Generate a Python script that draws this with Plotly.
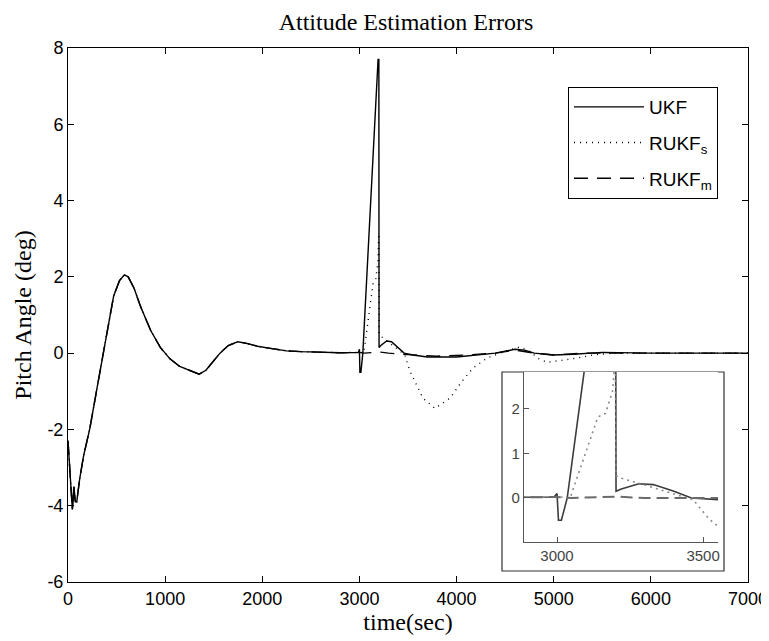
import plotly.graph_objects as go

# ---------------- data ----------------
# shared transient (all three filters coincide before ~3000 s)
t_common = [0, 15, 30, 45, 60, 75, 90, 120, 160, 225, 300, 400, 470, 530, 580, 620, 680,
            750, 850, 950, 1050, 1150, 1250, 1350, 1420, 1500, 1565, 1650, 1750, 1850,
            1950, 2100, 2250, 2400, 2600, 2800, 2990]
v_common = [-2.3, -3.0, -3.7, -4.1, -3.5, -3.9, -3.9, -3.3, -2.7, -1.97, -0.9, 0.55, 1.5, 1.9,
            2.05, 2.0, 1.7, 1.2, 0.6, 0.15, -0.15, -0.35, -0.45, -0.55, -0.45, -0.2, 0.0, 0.2,
            0.3, 0.25, 0.18, 0.12, 0.06, 0.04, 0.02, 0.01, 0.02]

t_ukf_late = [3000, 3005, 3015, 3035, 3100, 3192, 3200, 3202, 3220, 3280, 3330, 3400, 3460,
              3550, 3700, 4000, 4200, 4400, 4600, 4700, 4800, 5000, 5200, 5500, 6000, 7000]
v_ukf_late = [0.1, -0.5, -0.5, 0.0, 3.2, 7.7, 7.7, 0.15, 0.2, 0.32, 0.3, 0.15, 0.0,
              -0.05, -0.1, -0.1, -0.05, 0.0, 0.1, 0.08, 0.0, -0.05, -0.03, 0.02, 0.0, 0.0]

t_rukfs_late = [3000, 3045, 3089, 3140, 3166, 3190, 3198, 3200, 3202, 3216, 3274, 3387, 3466,
                3520, 3654, 3778, 3932, 4055, 4170, 4313, 4500, 4650, 4750, 4850, 4931, 5050,
                5240, 5400, 5600, 7000]
v_rukfs_late = [0.03, 0.0, 0.85, 1.82, 1.9, 2.4, 3.05, 3.05, 0.5, 0.45, 0.34, 0.11, -0.04,
                -0.47, -1.18, -1.45, -1.18, -0.74, -0.39, -0.13, 0.05, 0.16, 0.05, -0.15, -0.24,
                -0.2, -0.13, -0.05, 0.0, 0.0]

t_rukfm_late = [3000, 3050, 3200, 3300, 3500, 3800, 4100, 4400, 4600, 4800, 5000, 5300, 7000]
v_rukfm_late = [0.02, 0.0, 0.03, 0.0, -0.04, -0.08, -0.05, 0.0, 0.08, 0.0, -0.05, 0.0, 0.0]

series_names = ["UKF", "RUKF<sub>s</sub>", "RUKF<sub>m</sub>"]
x_tick_vals = [0, 1000, 2000, 3000, 4000, 5000, 6000, 7000]
x_tick_labels = ["0", "1000", "2000", "3000", "4000", "5000", "6000", "7000"]
y_tick_vals = [-6, -4, -2, 0, 2, 4, 6, 8]
y_tick_labels = ["-6", "-4", "-2", "0", "2", "4", "6", "8"]
inset_x_tick_vals = [3000, 3500]
inset_x_tick_labels = ["3000", "3500"]
inset_y_tick_vals = [0, 1, 2]
inset_y_tick_labels = ["0", "1", "2"]
inset_x_range = [2887, 3551]
inset_y_range = [-0.99, 2.83]

# ---------------- figure ----------------
series = [
    (t_common + t_ukf_late, v_common + v_ukf_late),
    (t_common + t_rukfs_late, v_common + v_rukfs_late),
    (t_common + t_rukfm_late, v_common + v_rukfm_late),
]
main_styles = [
    dict(color="black", width=1.4, dash="solid"),
    dict(color="black", width=1.4, dash="1px,5px"),
    dict(color="black", width=1.4, dash="14px,9px"),
]
inset_styles = [
    dict(color="#3c3c3c", width=1.6, dash="solid"),
    dict(color="#8a8a8a", width=1.6, dash="2px,4px"),
    dict(color="#6a6a6a", width=2.0, dash="12px,6px"),
]

fig = go.Figure()
for i, ((t, v), name) in enumerate(zip(series, series_names)):
    fig.add_trace(go.Scatter(x=t, y=v, mode="lines", name=name, line=main_styles[i],
                             legendgroup=f"g{i}", xaxis="x", yaxis="y"))
for i, (t, v) in enumerate(series):
    fig.add_trace(go.Scatter(x=t, y=v, mode="lines", showlegend=False, line=inset_styles[i],
                             xaxis="x2", yaxis="y2"))

OFF = 8  # page body margin of the html page
W, H = 769 - OFF, 641 - OFF
L, R, T, B = 68 - OFF, 748 - OFF, 48 - OFF, 582 - OFF

def px_x(p):
    return (p - OFF - L) / (R - L)

def px_y(p):
    return (B - (p - OFF)) / (B - T)

axis_common = dict(showline=True, linecolor="black", linewidth=1, mirror="ticks",
                   ticks="inside", ticklen=6, tickcolor="black", showgrid=False,
                   zeroline=False,
                   tickfont=dict(family="Liberation Sans", size=18, color="black"))
serif = dict(family="Liberation Serif", size=24, color="black")

fig.update_layout(
    width=W, height=H,
    margin=dict(l=L, r=W - R, t=T, b=H - B, autoexpand=False),
    paper_bgcolor="white", plot_bgcolor="white",
    title=dict(text="Attitude Estimation Errors", x=(406 - OFF) / W,
               xanchor="center", y=1 - (22 - OFF) / H, yanchor="middle", font=serif),
    xaxis=dict(range=[0, 7000], tickvals=x_tick_vals, ticktext=x_tick_labels,
               title=dict(text="time(sec)", standoff=5, font=serif),
               **axis_common),
    yaxis=dict(range=[-6, 8], tickvals=y_tick_vals, ticktext=y_tick_labels,
               title=dict(text="Pitch Angle (deg)", standoff=8, font=serif),
               **axis_common),
    xaxis2=dict(domain=[px_x(524), px_x(718)], anchor="y2", range=inset_x_range,
                tickvals=inset_x_tick_vals, ticktext=inset_x_tick_labels,
                showline=True, linecolor="#555", linewidth=1.2, ticks="inside", ticklen=5,
                tickcolor="#555", showgrid=False, zeroline=False,
                tickfont=dict(family="Liberation Sans", size=15, color="#444")),
    yaxis2=dict(domain=[px_y(542), px_y(372)], anchor="x2", range=inset_y_range,
                tickvals=inset_y_tick_vals, ticktext=inset_y_tick_labels,
                showline=True, linecolor="#555", linewidth=1.2, ticks="inside", ticklen=5,
                tickcolor="#555", showgrid=False, zeroline=False,
                tickfont=dict(family="Liberation Sans", size=15, color="#444")),
    legend=dict(x=px_x(718), xanchor="right", y=px_y(87), yanchor="top",
                bgcolor="white", bordercolor="black", borderwidth=1,
                font=dict(family="Liberation Sans", size=19, color="black"),
                traceorder="grouped", tracegroupgap=8, itemwidth=70),
    shapes=[dict(type="rect", xref="paper", yref="paper",
                 x0=px_x(502), x1=px_x(724), y0=px_y(571), y1=px_y(372),
                 line=dict(color="#333", width=1.2), fillcolor="white", layer="below")],
)

fig.write_html("out.html")
